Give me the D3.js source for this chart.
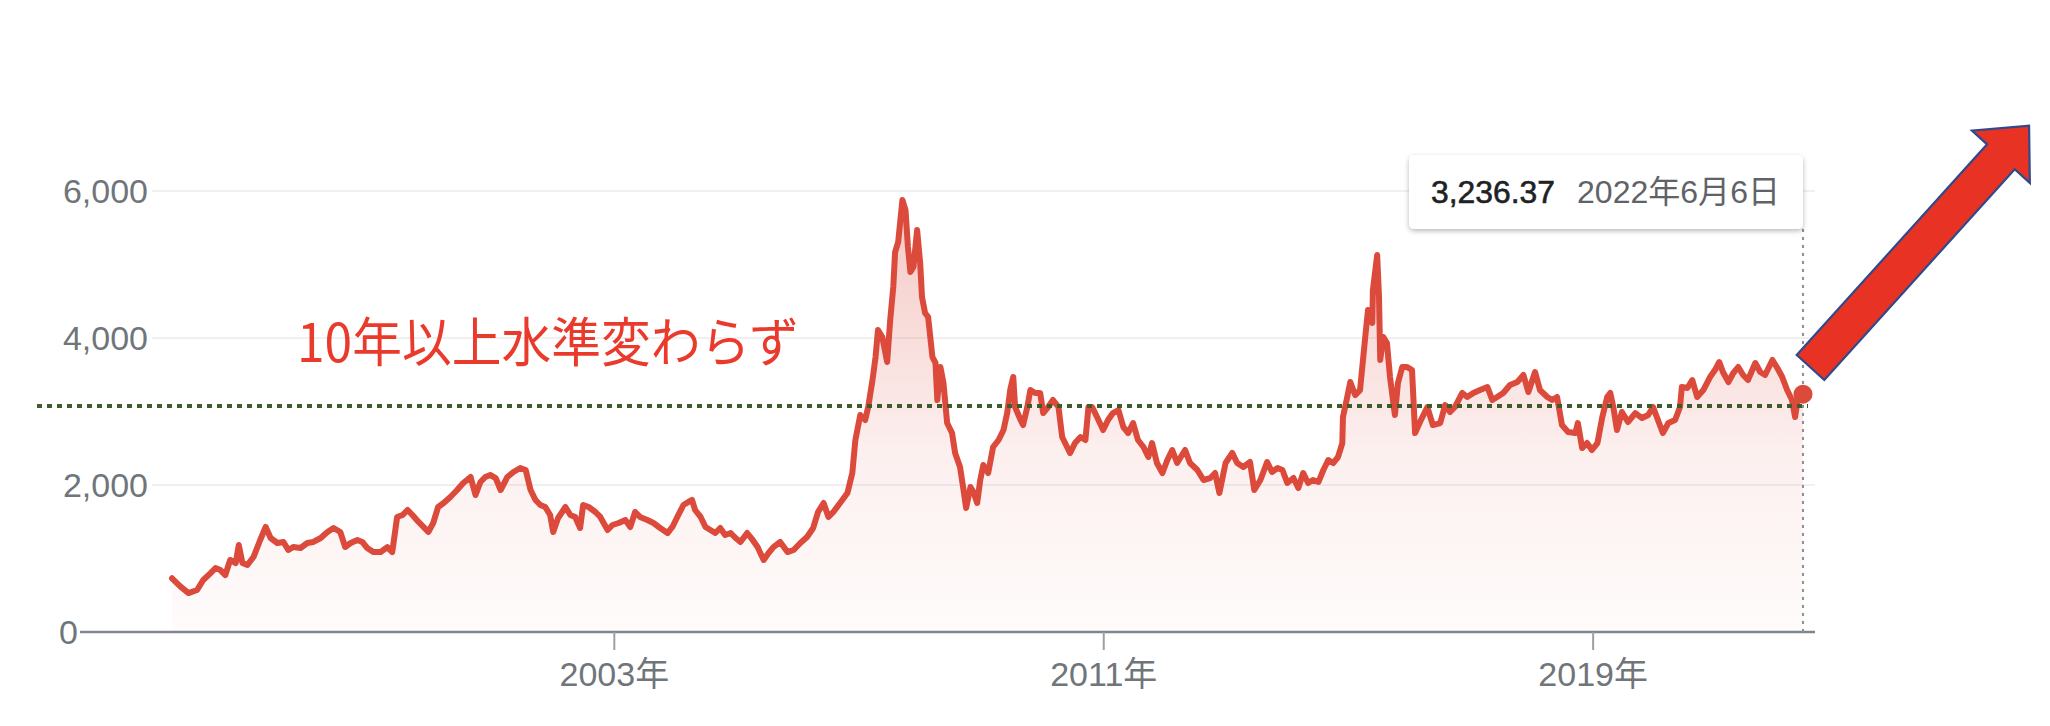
<!DOCTYPE html>
<html>
<head>
<meta charset="utf-8">
<script src="https://cdn.jsdelivr.net/npm/d3@7"></script>
<style>
  html, body { margin: 0; padding: 0; background: #fff; }
  svg { display: block; }
</style>
</head>
<body>
<svg id="chart" width="2050" height="726"></svg>
<script>
// ---------------- DATA ----------------
const years = [
1995.77,1995.91,1996.04,1996.18,1996.28,1996.40,1996.48,1996.56,1996.64,1996.72,1996.81,1996.86,1996.92,1997.00,1997.10,1997.21,1997.30,1997.38,1997.49,1997.59,1997.67,1997.75,1997.87,1997.98,1998.08,1998.20,1998.31,1998.41,1998.52,1998.60,1998.69,1998.80,1998.88,1998.96,1999.06,1999.18,1999.29,1999.37,1999.45,1999.54,1999.62,1999.70,1999.80,1999.88,1999.96,2000.04,2000.12,2000.21,2000.32,2000.43,2000.53,2000.65,2000.73,2000.81,2000.89,2000.97,2001.06,2001.14,
2001.25,2001.35,2001.46,2001.55,2001.63,2001.71,2001.79,2001.87,2001.95,2002.00,2002.08,2002.20,2002.28,2002.36,2002.44,2002.49,2002.58,2002.69,2002.77,2002.89,2002.97,2003.07,2003.18,2003.26,2003.34,2003.42,2003.54,2003.64,2003.75,2003.87,2003.95,2004.03,2004.13,2004.21,2004.27,2004.32,2004.41,2004.49,2004.57,2004.65,2004.73,2004.81,2004.90,2004.98,2005.06,2005.17,2005.26,2005.34,2005.44,2005.52,2005.60,2005.71,2005.83,2005.93,2006.04,2006.15,2006.25,2006.33,2006.42,2006.50,2006.58,2006.69,2006.81,2006.89,2006.94,2007.02,
2007.10,2007.15,2007.22,2007.27,2007.31,2007.38,2007.46,2007.51,2007.56,2007.59,2007.64,2007.71,2007.76,2007.80,2007.84,2007.89,2007.95,2008.00,2008.03,2008.08,2008.13,2008.20,2008.25,2008.28,2008.33,2008.38,2008.44,2008.52,2008.57,2008.65,2008.70,2008.75,2008.82,2008.87,2008.93,2008.98,2009.03,2009.11,2009.19,2009.28,2009.36,2009.42,2009.47,2009.52,2009.55,2009.64,2009.68,2009.75,2009.80,2009.88,2009.96,2010.01,2010.09,2010.17,2010.26,2010.32,2010.40,2010.45,2010.53,2010.62,2010.70,2010.75,2010.81,2010.89,2010.99,2011.07,2011.15,2011.24,2011.32,2011.40,2011.48,2011.56,2011.65,2011.73,2011.79,2011.87,2011.96,2012.04,2012.12,2012.20,
2012.33,2012.41,2012.53,2012.63,2012.74,2012.82,2012.89,2012.99,2013.10,2013.18,2013.28,2013.39,2013.46,2013.56,2013.67,2013.75,2013.84,2013.92,2014.00,2014.10,2014.18,2014.26,2014.34,2014.42,2014.51,2014.59,2014.67,2014.75,2014.83,2014.90,2014.91,2014.98,2015.03,2015.11,2015.19,2015.27,2015.32,2015.39,2015.40,2015.47,2015.50,2015.52,2015.57,2015.63,2015.68,2015.76,2015.81,2015.88,2015.96,2016.04,2016.09,2016.17,2016.29,2016.38,2016.50,2016.58,2016.66,2016.74,2016.86,2016.94,2017.04,2017.15,2017.27,2017.35,
2017.43,2017.53,2017.64,2017.76,2017.86,2017.94,2018.05,2018.13,2018.25,2018.33,2018.41,2018.49,2018.59,2018.71,2018.75,2018.82,2018.90,2018.98,2019.07,2019.15,2019.23,2019.28,2019.33,2019.39,2019.47,2019.57,2019.69,2019.80,2019.90,2019.98,2020.06,2020.14,2020.23,2020.34,2020.42,2020.45,2020.54,2020.62,2020.70,2020.80,2020.91,2020.99,2021.06,2021.12,2021.21,2021.29,2021.37,2021.45,2021.53,2021.65,2021.73,2021.81,2021.93,2022.01,2022.09,2022.17,2022.25,2022.30,2022.35,2022.43
];
const prices = [
731,617,530,571,707,802,870,843,775,980,938,1184,938,911,1020,1252,1429,1279,1211,1225,1116,1156,1143,1211,1225,1279,1361,1415,1361,1156,1211,1252,1225,1143,1088,1088,1156,1088,1565,1592,1660,1592,1497,1429,1361,1483,1701,1755,1837,1932,2027,2109,1864,2041,2109,2136,2095,1932,
2109,2177,2231,2204,1932,1796,1728,1701,1592,1361,1551,1701,1592,1565,1415,1728,1701,1633,1565,1388,1456,1483,1524,1429,1633,1565,1524,1483,1415,1347,1429,1565,1728,1769,1796,1660,1565,1429,1388,1347,1415,1320,1347,1279,1225,1347,1252,1156,980,1075,1156,1225,1088,1116,1211,1293,1415,1633,1755,1565,1633,1755,1891,2163,2612,2952,
2884,3061,3428,3741,4109,4014,3673,4245,4694,5170,5306,5877,5741,5238,4898,4966,5469,5020,4558,4340,4285,3741,3660,3156,3605,3388,2843,2707,2435,2245,1973,1687,1973,1905,1755,2068,2272,2163,2517,2612,2748,2979,3292,3469,3061,2884,2816,3061,3292,3252,3252,2979,3061,3156,3061,2653,2517,2435,2571,2653,2612,3061,3061,2925,2748,2884,2979,3020,2789,2707,2843,2612,2517,2381,2571,2299,2163,2340,2476,2299,
2476,2299,2204,2068,2095,2163,1891,2299,2435,2299,2245,2313,1932,2068,2313,2177,2231,2204,2027,2095,1959,2163,2027,2068,2041,2204,2340,2299,2381,2571,2925,3197,3401,3224,3292,3973,4381,4204,4653,5129,4558,3701,4014,3932,3469,2952,3388,3605,3605,3564,2707,2857,3061,2816,2843,3088,2993,3061,3252,3197,3252,3292,3333,3156,
3197,3252,3360,3401,3497,3265,3537,3292,3197,3156,3197,2816,2721,2707,2843,2503,2571,2476,2571,2925,3197,3252,3061,2748,2993,2857,2979,2911,2952,3061,2884,2707,2843,2884,3061,3333,3320,3428,3197,3292,3469,3564,3673,3537,3401,3524,3605,3497,3428,3660,3537,3497,3701,3592,3469,3292,3156,2925,3197,3236.37
];
const yTicks = [0, 2000, 4000, 6000];
const yTickLabels = ["0", "2,000", "4,000", "6,000"];
const xTickYears = [2003, 2011, 2019];
const xTickLabels = ["2003年", "2011年", "2019年"];
const refLevel = 3075;
const annotationText = "10年以上水準変わらず";
const tooltipValue = "3,236.37";
const tooltipDate = "2022年6月6日";

// ---------------- HELPERS ----------------
function toDate(y) {
  const yr = Math.floor(y);
  const a = new Date(yr, 0, 1), b = new Date(yr + 1, 0, 1);
  return new Date(+a + (y - yr) * (b - a));
}
const data = years.map((y, i) => ({ date: toDate(y), value: prices[i] }));
const last = data[data.length - 1];

const svg = d3.select("#chart");
const plotLeft = 152, plotRight = 1815, axisLeft = 80;

const x = d3.scaleTime()
  .domain([data[0].date, last.date])
  .range([172, 1803]);
const y = d3.scaleLinear().domain([0, 6000]).range([632, 191]);

const labelFont = "'Liberation Sans', Arial, 'Noto Sans CJK JP', sans-serif";

// gridlines
svg.append("g").selectAll("line")
  .data(yTicks.filter(d => d > 0))
  .join("line")
  .attr("x1", plotLeft).attr("x2", plotRight)
  .attr("y1", d => y(d)).attr("y2", d => y(d))
  .attr("stroke", "#f0f0f0").attr("stroke-width", 2);

// y labels
svg.append("g").selectAll("text")
  .data(yTicks)
  .join("text")
  .attr("x", d => d === 0 ? axisLeft - 2 : 148)
  .attr("y", d => y(d))
  .attr("dy", "0.35em")
  .attr("text-anchor", "end")
  .attr("font-family", labelFont)
  .attr("font-size", 34)
  .attr("fill", "#70757a")
  .text((d, i) => yTickLabels[i]);

// gradient fill
const defs = svg.append("defs");
const grad = defs.append("linearGradient")
  .attr("id", "areaGrad")
  .attr("gradientUnits", "userSpaceOnUse")
  .attr("x1", 0).attr("x2", 0)
  .attr("y1", y(6000)).attr("y2", y(0));
grad.append("stop").attr("offset", "0").attr("stop-color", "#db4437").attr("stop-opacity", 0.3);
grad.append("stop").attr("offset", "0.6").attr("stop-color", "#db4437").attr("stop-opacity", 0.08);
grad.append("stop").attr("offset", "1").attr("stop-color", "#db4437").attr("stop-opacity", 0.02);

const shadow = defs.append("filter").attr("id", "shadow")
  .attr("x", "-10%").attr("y", "-20%").attr("width", "120%").attr("height", "160%");
shadow.append("feDropShadow").attr("dx", 0).attr("dy", 2).attr("stdDeviation", 2.5)
  .attr("flood-color", "#000").attr("flood-opacity", 0.28);

svg.append("path")
  .datum(data)
  .attr("fill", "url(#areaGrad)")
  .attr("d", d3.area().x(d => x(d.date)).y0(y(0)).y1(d => y(d.value)));

// baseline axis
svg.append("line")
  .attr("x1", axisLeft).attr("x2", plotRight)
  .attr("y1", y(0)).attr("y2", y(0))
  .attr("stroke", "#80868b").attr("stroke-width", 2.5);

// x ticks + labels
const xt = svg.append("g").selectAll("g")
  .data(xTickYears)
  .join("g")
  .attr("transform", d => `translate(${x(new Date(d, 0, 1))},0)`);
xt.append("line")
  .attr("y1", y(0)).attr("y2", y(0) + 18)
  .attr("stroke", "#9aa0a6").attr("stroke-width", 2);
xt.append("text")
  .attr("y", 686)
  .attr("text-anchor", "middle")
  .attr("font-family", labelFont)
  .attr("font-size", 34)
  .attr("fill", "#70757a")
  .text((d, i) => xTickLabels[i]);

// price line
svg.append("path")
  .datum(data)
  .attr("fill", "none")
  .attr("stroke", "#db4a3b")
  .attr("stroke-width", 6)
  .attr("stroke-linejoin", "round")
  .attr("stroke-linecap", "round")
  .attr("d", d3.line().x(d => x(d.date)).y(d => y(d.value)));

// reference dotted line
svg.append("line")
  .attr("x1", 37).attr("x2", x(last.date) + 5)
  .attr("y1", y(refLevel)).attr("y2", y(refLevel))
  .attr("stroke", "#3f5a2b").attr("stroke-width", 4)
  .attr("stroke-dasharray", "5,5");

// hover vertical dotted line
svg.append("line")
  .attr("x1", x(last.date)).attr("x2", x(last.date))
  .attr("y1", 229).attr("y2", y(0))
  .attr("stroke", "#8a8f94").attr("stroke-width", 2)
  .attr("stroke-dasharray", "3,5");

// end dot
svg.append("circle")
  .attr("cx", x(last.date)).attr("cy", y(last.value))
  .attr("r", 9.5).attr("fill", "#db4a3b");

// tooltip
const tip = svg.append("g");
tip.append("rect")
  .attr("x", 1409).attr("y", 155).attr("width", 394).attr("height", 74)
  .attr("rx", 5).attr("fill", "#fff").attr("filter", "url(#shadow)");
tip.append("text")
  .attr("x", 1431).attr("y", 203)
  .attr("font-family", labelFont).attr("font-size", 32)
  .attr("fill", "#202124").attr("stroke", "#202124").attr("stroke-width", 0.6)
  .attr("textLength", 124).attr("lengthAdjust", "spacingAndGlyphs")
  .text(tooltipValue);
tip.append("text")
  .attr("x", 1577).attr("y", 203)
  .attr("font-family", labelFont).attr("font-size", 32)
  .attr("fill", "#5f6368")
  .attr("textLength", 203).attr("lengthAdjust", "spacingAndGlyphs")
  .text(tooltipDate);

// annotation text
svg.append("text")
  .attr("x", 297).attr("y", 362)
  .attr("font-family", "'Noto Sans CJK JP', sans-serif")
  .attr("font-size", 53)
  .attr("fill", "#ea3a2c")
  .attr("textLength", 502).attr("lengthAdjust", "spacingAndGlyphs")
  .text(annotationText);

// big arrow
const hw = 18.6, headW = 39, shaftLen = 284, tipLen = 326;
svg.append("polygon")
  .attr("transform", "translate(1810.5,367.5) rotate(-47.9)")
  .attr("points", [[0, -hw], [shaftLen, -hw], [shaftLen, -headW], [tipLen, 0], [shaftLen, headW], [shaftLen, hw], [0, hw]].map(p => p.join(",")).join(" "))
  .attr("fill", "#e83224")
  .attr("stroke", "#2f4a8c")
  .attr("stroke-width", 2.2)
  .attr("stroke-linejoin", "miter");
</script>
</body>
</html>
